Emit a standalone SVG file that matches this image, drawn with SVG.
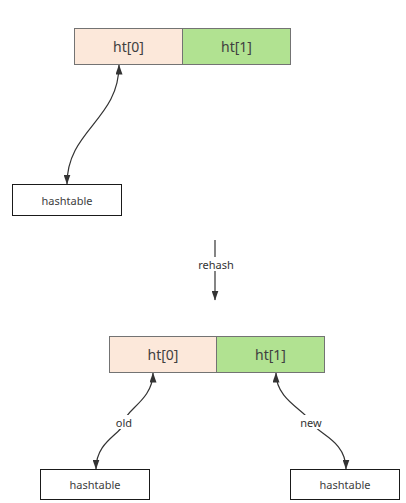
<svg xmlns="http://www.w3.org/2000/svg" width="406" height="503" viewBox="0 0 406 503">
<defs>
<style>
.ht0{fill:#fce8da;stroke:#737373;stroke-width:1}
.ht1{fill:#b1e291;stroke:#737373;stroke-width:1}
.hb{fill:#fff;stroke:#1a1a1a;stroke-width:1}
.t14{font-family:"Noto Sans","Liberation Sans",Arial,sans-serif;font-size:14px;fill:#404040;text-anchor:middle;dominant-baseline:central}
.t11{font-family:"Noto Sans","Liberation Sans",Arial,sans-serif;font-size:11px;fill:#404040;text-anchor:middle;dominant-baseline:central}
.lab{font-family:"Noto Sans","Liberation Sans",Arial,sans-serif;font-size:11px;fill:#333;text-anchor:middle;dominant-baseline:central}
.edge{fill:none;stroke:#333;stroke-width:1.2}
</style>
<marker id="ah" viewBox="0 0 10 7" refX="9.5" refY="3.5" markerWidth="10" markerHeight="7" markerUnits="userSpaceOnUse" orient="auto-start-reverse">
<path d="M0,0 L10,3.5 L0,7 Z" fill="#333"/>
</marker>
</defs>
<g id="top-ht0"><rect class="ht0" x="74.5" y="28.5" width="108" height="36"/><text class="t14" x="128.5" y="46.5">ht[0]</text></g>
<g id="top-ht1"><rect class="ht1" x="182.5" y="28.5" width="108" height="36"/><text class="t14" x="236.5" y="46.5">ht[1]</text></g>
<g id="top-hashtable"><rect class="hb" x="12.5" y="184.5" width="109" height="31"/><text class="t11" x="67" y="200">hashtable</text></g>
<g id="bot-ht0"><rect class="ht0" x="109.5" y="336.5" width="107" height="36"/><text class="t14" x="163" y="354.5">ht[0]</text></g>
<g id="bot-ht1"><rect class="ht1" x="216.5" y="336.5" width="108" height="36"/><text class="t14" x="270.5" y="354.5">ht[1]</text></g>
<g id="bot-hashtable-old"><rect class="hb" x="40.5" y="469.5" width="109" height="30"/><text class="t11" x="95" y="484.5">hashtable</text></g>
<g id="bot-hashtable-new"><rect class="hb" x="290.5" y="469.5" width="109" height="30"/><text class="t11" x="345" y="484.5">hashtable</text></g>
<g id="connectors">
<path class="edge" d="M119,65 C119,120 67,130 67,184" marker-start="url(#ah)" marker-end="url(#ah)"/>
<path class="edge" d="M215,240 L215,300" marker-end="url(#ah)"/>
<rect x="196" y="257" width="40" height="14" fill="#fff"/>
<text class="lab" x="216" y="264">rehash</text>
<path class="edge" d="M153,373 C153,400 125,410 124,422 C123,434 96,440 96,469" marker-start="url(#ah)" marker-end="url(#ah)"/>
<rect x="113" y="415" width="22" height="14" fill="#fff"/>
<text class="lab" x="124" y="422">old</text>
<path class="edge" d="M276,373 C276,400 305,410 311,422 C317,434 346,440 346,469" marker-start="url(#ah)" marker-end="url(#ah)"/>
<rect x="298" y="415" width="27" height="14" fill="#fff"/>
<text class="lab" x="311" y="422">new</text>
</g>
</svg>
